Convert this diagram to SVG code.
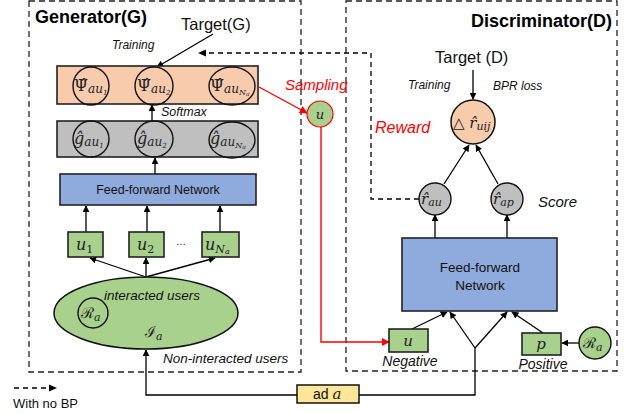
<svg xmlns="http://www.w3.org/2000/svg" width="635" height="414" viewBox="0 0 635 414">
<defs>
<style>
.dash{fill:none;stroke:#000;stroke-width:1.3;stroke-dasharray:5,4}
.frame{fill:none;stroke:#222;stroke-width:1.3;stroke-dasharray:6,4}
.ln{fill:none;stroke:#000;stroke-width:1.3;marker-end:url(#ah)}
.red{fill:none;stroke:#f00;stroke-width:1.4}
.bx{stroke:#222;stroke-width:1.6}
.cir{fill:none;stroke:#111;stroke-width:1.4}
.sans{font-family:"Liberation Sans",Arial,sans-serif;fill:#111}
.it{font-family:"Liberation Sans",Arial,sans-serif;font-style:italic;fill:#111}
.m{font-family:"DejaVu Serif","Liberation Serif",serif;font-style:italic;fill:#222}
.scr{font-family:"DejaVu Serif","Liberation Serif",serif;font-style:normal;fill:#222}
.title{font-family:"Liberation Sans",Arial,sans-serif;font-weight:bold;font-size:18px;fill:#000}
</style>
<marker id="ah" viewBox="0 0 10 10" refX="9" refY="5" markerWidth="7" markerHeight="7" markerUnits="userSpaceOnUse" orient="auto"><path d="M0,0L10,5L0,10z" fill="#000"/></marker>
<marker id="ahr" viewBox="0 0 10 10" refX="9" refY="5" markerWidth="8" markerHeight="8" markerUnits="userSpaceOnUse" orient="auto"><path d="M0,0L10,5L0,10z" fill="#f00"/></marker>
</defs>
<rect width="635" height="414" fill="#fff"/>

<g id="generator-frame">
<rect class="frame" x="29" y="1" width="272" height="371"/>
<text class="title" x="35" y="23">Generator(G)</text>
</g>
<g id="discriminator-frame">
<rect class="frame" x="346" y="1" width="271" height="370"/>
<text class="title" x="612" y="27" text-anchor="end">Discriminator(D)</text>
</g>

<g id="connectors">
<path class="ln" d="M213,34L157,67"/>
<path class="ln" d="M152,121L152,105"/>
<path class="ln" d="M155,174L155,158"/>
<path class="ln" d="M86,232L86,206"/>
<path class="ln" d="M147,232L147,206"/>
<path class="ln" d="M220,232L220,206"/>
<path class="ln" d="M146,277L90,258"/>
<path class="ln" d="M146,277L146,258"/>
<path class="ln" d="M146,277L215,258"/>
<path class="ln" d="M297,395L146,395L146,350"/>
<path fill="none" stroke="#000" stroke-width="1.3" d="M359,395L475,395L475,348"/>
<path class="ln" d="M475,348L450,312"/>
<path class="ln" d="M475,348L507,312"/>
<path class="ln" d="M412,329L447,312"/>
<path class="ln" d="M543,333L512,312"/>
<path class="ln" d="M579,343L562,343"/>
<path class="ln" d="M435,238L435,215"/>
<path class="ln" d="M507,238L507,215"/>
<path class="ln" d="M444,184L469,145"/>
<path class="ln" d="M498,184L476,145"/>
<path class="ln" d="M473,70L473,99"/>
<path class="dash" d="M419,199L371,199L371,53L205,53"/>
<path d="M198,53L206,49.5L206,56.5z" fill="#000"/>
<path class="red" marker-end="url(#ahr)" d="M259,87L307,113"/>
<path class="red" marker-end="url(#ahr)" d="M321,127L321,342L389,342"/>
<path class="dash" d="M14,388L51,388"/>
<path d="M57,388L49,384.5L49,391.5z" fill="#000"/>
</g>

<g id="target-g">
<text class="sans" x="181" y="30" font-size="16.5">Target(G)</text>
<text class="it" x="112" y="49" font-size="12">Training</text>
</g>

<g id="psi-layer">
<rect class="bx" x="57" y="66" width="201" height="38" fill="#f8cbad"/>
<ellipse class="cir" cx="91" cy="86" rx="18" ry="19"/>
<ellipse class="cir" cx="154" cy="86" rx="19" ry="19"/>
<ellipse class="cir" cx="232" cy="86" rx="23" ry="19"/>
<text class="m" x="74" y="91" font-size="16"><tspan font-style="normal">Ψ̂</tspan><tspan font-size="12" dy="2">au</tspan><tspan font-size="7" dy="2">1</tspan></text>
<text class="m" x="137" y="91" font-size="16"><tspan font-style="normal">Ψ̂</tspan><tspan font-size="12" dy="2">au</tspan><tspan font-size="7" dy="2">2</tspan></text>
<text class="m" x="210" y="91" font-size="16"><tspan font-style="normal">Ψ̂</tspan><tspan font-size="12" dy="2">au</tspan><tspan font-size="8" dy="2">N</tspan><tspan font-size="6" dy="1">a</tspan></text>
<text class="it" x="161" y="116" font-size="12.5">Softmax</text>
</g>

<g id="g-layer">
<rect class="bx" x="57" y="121" width="201" height="36" fill="#bfbfbf"/>
<ellipse class="cir" cx="91" cy="139" rx="18" ry="18"/>
<ellipse class="cir" cx="154" cy="139" rx="19" ry="18"/>
<ellipse class="cir" cx="232" cy="140" rx="23" ry="18"/>
<text class="m" x="74" y="144" font-size="16">ĝ<tspan font-size="12" dy="2">au</tspan><tspan font-size="7" dy="2">1</tspan></text>
<text class="m" x="137" y="144" font-size="16">ĝ<tspan font-size="12" dy="2">au</tspan><tspan font-size="7" dy="2">2</tspan></text>
<text class="m" x="210" y="144" font-size="16">ĝ<tspan font-size="12" dy="2">au</tspan><tspan font-size="8" dy="2">N</tspan><tspan font-size="6" dy="1">a</tspan></text>
</g>

<g id="ffn-g">
<rect class="bx" x="60" y="174" width="196" height="31" fill="#8faadc"/>
<text class="sans" x="158" y="194" font-size="12.5" text-anchor="middle">Feed-forward Network</text>
</g>

<g id="u1"><rect class="bx" x="68" y="232" width="35" height="25" fill="#a9d18e"/><text class="m" x="76" y="250" font-size="16">u<tspan font-size="11" dy="3" font-style="normal">1</tspan></text></g>
<g id="u2"><rect class="bx" x="129" y="232" width="35" height="25" fill="#a9d18e"/><text class="m" x="137" y="250" font-size="16">u<tspan font-size="11" dy="3" font-style="normal">2</tspan></text></g>
<text class="sans" x="176" y="245" font-size="10">…</text>
<g id="uNa"><rect class="bx" x="202" y="232" width="37" height="25" fill="#a9d18e"/><text class="m" x="205" y="250" font-size="16">u<tspan font-size="11" dy="3">N</tspan><tspan font-size="8" dy="1">a</tspan></text></g>

<g id="users-set">
<ellipse cx="146" cy="313" rx="92" ry="36" fill="#a9d18e" stroke="#111" stroke-width="1.5"/>
<text class="it" x="152" y="300" font-size="13.5" text-anchor="middle">interacted users</text>
<circle cx="93" cy="313" r="15" fill="none" stroke="#111" stroke-width="1.4"/>
<text class="scr" x="81" y="318" font-size="15">ℛ<tspan class="m" font-size="11" dy="3">a</tspan></text>
<text class="scr" x="145" y="337" font-size="15">ℐ<tspan class="m" font-size="11" dy="3">a</tspan></text>
<text class="it" x="163" y="363" font-size="13.5">Non-interacted users</text>
</g>

<g id="sampled-u">
<circle cx="320" cy="114" r="13" fill="#a9d18e" stroke="#f00" stroke-width="1.2"/>
<text class="m" x="320" y="119" font-size="13" text-anchor="middle">u</text>
<text class="it" x="285" y="90" font-size="15" style="fill:#f00">Sampling</text>
<text class="it" x="375" y="133" font-size="16" style="fill:#f00">Reward</text>
</g>

<g id="ad-a">
<rect x="297" y="385" width="62" height="18" fill="#ffe699" stroke="#111" stroke-width="1.5"/>
<text class="sans" x="313" y="399" font-size="14">ad <tspan class="m" font-size="15">a</tspan></text>
</g>

<g id="target-d">
<text class="sans" x="435" y="63" font-size="16.5">Target (D)</text>
<text class="it" x="408" y="89" font-size="12">Training</text>
<text class="it" x="493" y="90" font-size="12">BPR loss</text>
</g>

<g id="delta-r">
<circle cx="473" cy="122" r="22" fill="#f8cbad" stroke="#111" stroke-width="1.5"/>
<text class="m" x="453" y="128" font-size="15"><tspan font-style="normal">△</tspan> r̂<tspan font-size="11" dy="2">uij</tspan></text>
</g>

<g id="r-au">
<circle cx="435" cy="199" r="16" fill="#bfbfbf" stroke="#111" stroke-width="1.4"/>
<text class="m" x="421" y="204" font-size="15">r̂<tspan font-size="11" dy="2">au</tspan></text>
</g>
<g id="r-ap">
<circle cx="507" cy="199" r="16" fill="#bfbfbf" stroke="#111" stroke-width="1.4"/>
<text class="m" x="493" y="204" font-size="15">r̂<tspan font-size="11" dy="2">ap</tspan></text>
</g>
<text class="it" x="538" y="207" font-size="15">Score</text>

<g id="ffn-d">
<rect class="bx" x="402" y="238" width="155" height="73" fill="#8faadc"/>
<text class="sans" x="480" y="272" font-size="13.5" text-anchor="middle">Feed-forward</text>
<text class="sans" x="480" y="290" font-size="13.5" text-anchor="middle">Network</text>
</g>

<g id="neg-u">
<rect class="bx" x="389" y="329" width="39" height="23" fill="#a9d18e"/>
<text class="m" x="408" y="346" font-size="15" text-anchor="middle">u</text>
<text class="it" x="410" y="366" font-size="14" text-anchor="middle">Negative</text>
</g>
<g id="pos-p">
<rect class="bx" x="522" y="333" width="39" height="22" fill="#a9d18e"/>
<text class="m" x="541" y="349" font-size="15" text-anchor="middle">p</text>
<text class="it" x="543" y="369" font-size="14" text-anchor="middle">Positive</text>
</g>
<g id="ra-d">
<circle cx="595" cy="343" r="16" fill="#a9d18e" stroke="#111" stroke-width="1.4"/>
<text class="scr" x="583" y="348" font-size="15">ℛ<tspan class="m" font-size="11" dy="3">a</tspan></text>
</g>

<g id="legend">
<text class="sans" x="13" y="408" font-size="13">With no BP</text>
</g>
</svg>
